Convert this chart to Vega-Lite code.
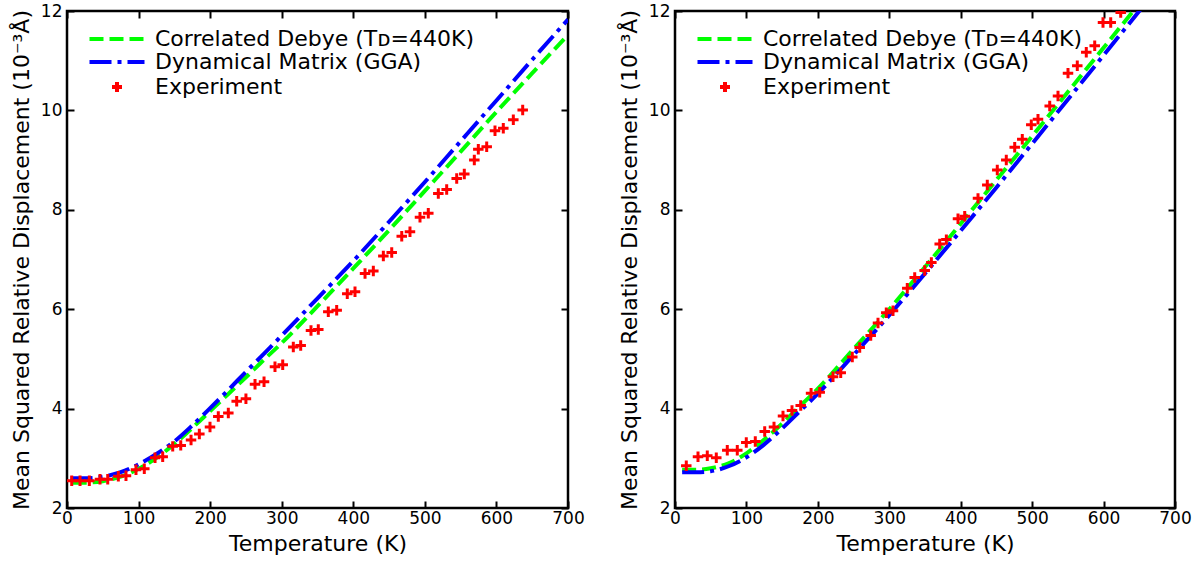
{
  "$schema": "https://vega.github.io/schema/vega-lite/v6.json",
  "padding": {"left": 9, "top": 0, "right": 5, "bottom": 5},
  "background": "white",
  "spacing": 31,
  "config": {
    "font": "DejaVu Sans",
    "view": {"stroke": "black", "strokeWidth": 2.5},
    "axis": {
      "labelFont": "DejaVu Sans", "labelFontSize": 17, "labelColor": "black", "labelFlush": false,
      "titleFont": "DejaVu Sans", "titleFontSize": 22, "titleFontWeight": "normal", "titleColor": "black",
      "tickColor": "black", "tickWidth": 2, "tickSize": 7, "offset": -7, "domain": false, "grid": false,
      "titlePadding": 7
    },
    "axisX": {"labelPadding": 2},
    "axisY": {"labelPadding": 5},
    "legend": {
      "labelFont": "DejaVu Sans", "labelFontSize": 22, "labelColor": "black", "labelLimit": 0,
      "orient": "top-left", "offset": 17, "symbolSize": 100, "symbolStrokeWidth": 4,
      "symbolOffset": 22, "labelOffset": 27, "rowPadding": 1
    }
  },
  "datasets": {
    "left_lines": [
      {"series": "Correlated Debye (Tᴅ=440K)", "T": 8, "v": 2.51},
      {"series": "Correlated Debye (Tᴅ=440K)", "T": 25, "v": 2.51},
      {"series": "Correlated Debye (Tᴅ=440K)", "T": 50, "v": 2.54},
      {"series": "Correlated Debye (Tᴅ=440K)", "T": 75, "v": 2.63},
      {"series": "Correlated Debye (Tᴅ=440K)", "T": 100, "v": 2.79},
      {"series": "Correlated Debye (Tᴅ=440K)", "T": 125, "v": 3.01},
      {"series": "Correlated Debye (Tᴅ=440K)", "T": 150, "v": 3.29},
      {"series": "Correlated Debye (Tᴅ=440K)", "T": 175, "v": 3.61},
      {"series": "Correlated Debye (Tᴅ=440K)", "T": 200, "v": 3.95},
      {"series": "Correlated Debye (Tᴅ=440K)", "T": 225, "v": 4.29},
      {"series": "Correlated Debye (Tᴅ=440K)", "T": 250, "v": 4.63},
      {"series": "Correlated Debye (Tᴅ=440K)", "T": 275, "v": 4.98},
      {"series": "Correlated Debye (Tᴅ=440K)", "T": 300, "v": 5.32},
      {"series": "Correlated Debye (Tᴅ=440K)", "T": 350, "v": 6.06},
      {"series": "Correlated Debye (Tᴅ=440K)", "T": 400, "v": 6.82},
      {"series": "Correlated Debye (Tᴅ=440K)", "T": 450, "v": 7.59},
      {"series": "Correlated Debye (Tᴅ=440K)", "T": 500, "v": 8.38},
      {"series": "Correlated Debye (Tᴅ=440K)", "T": 550, "v": 9.17},
      {"series": "Correlated Debye (Tᴅ=440K)", "T": 600, "v": 9.97},
      {"series": "Correlated Debye (Tᴅ=440K)", "T": 650, "v": 10.75},
      {"series": "Correlated Debye (Tᴅ=440K)", "T": 700, "v": 11.52},
      {"series": "Dynamical Matrix (GGA)", "T": 5, "v": 2.60},
      {"series": "Dynamical Matrix (GGA)", "T": 25, "v": 2.60},
      {"series": "Dynamical Matrix (GGA)", "T": 50, "v": 2.63},
      {"series": "Dynamical Matrix (GGA)", "T": 75, "v": 2.72},
      {"series": "Dynamical Matrix (GGA)", "T": 100, "v": 2.88},
      {"series": "Dynamical Matrix (GGA)", "T": 125, "v": 3.09},
      {"series": "Dynamical Matrix (GGA)", "T": 150, "v": 3.34},
      {"series": "Dynamical Matrix (GGA)", "T": 175, "v": 3.66},
      {"series": "Dynamical Matrix (GGA)", "T": 200, "v": 4.01},
      {"series": "Dynamical Matrix (GGA)", "T": 225, "v": 4.37},
      {"series": "Dynamical Matrix (GGA)", "T": 250, "v": 4.74},
      {"series": "Dynamical Matrix (GGA)", "T": 275, "v": 5.10},
      {"series": "Dynamical Matrix (GGA)", "T": 300, "v": 5.47},
      {"series": "Dynamical Matrix (GGA)", "T": 350, "v": 6.22},
      {"series": "Dynamical Matrix (GGA)", "T": 400, "v": 6.97},
      {"series": "Dynamical Matrix (GGA)", "T": 450, "v": 7.76},
      {"series": "Dynamical Matrix (GGA)", "T": 500, "v": 8.56},
      {"series": "Dynamical Matrix (GGA)", "T": 550, "v": 9.38},
      {"series": "Dynamical Matrix (GGA)", "T": 600, "v": 10.20},
      {"series": "Dynamical Matrix (GGA)", "T": 650, "v": 11.02},
      {"series": "Dynamical Matrix (GGA)", "T": 700, "v": 11.83}
    ],
    "left_exp": [
      {"series": "Experiment", "T": 6.6, "v": 2.55}, {"series": "Experiment", "T": 18.2, "v": 2.55},
      {"series": "Experiment", "T": 31.2, "v": 2.55}, {"series": "Experiment", "T": 46.1, "v": 2.58},
      {"series": "Experiment", "T": 56.9, "v": 2.58}, {"series": "Experiment", "T": 71.7, "v": 2.64},
      {"series": "Experiment", "T": 82.4, "v": 2.65}, {"series": "Experiment", "T": 96.4, "v": 2.77},
      {"series": "Experiment", "T": 108, "v": 2.79}, {"series": "Experiment", "T": 123, "v": 3.01},
      {"series": "Experiment", "T": 133.7, "v": 3.03}, {"series": "Experiment", "T": 147.7, "v": 3.24},
      {"series": "Experiment", "T": 158.9, "v": 3.26}, {"series": "Experiment", "T": 173.3, "v": 3.37},
      {"series": "Experiment", "T": 184.9, "v": 3.49}, {"series": "Experiment", "T": 199.8, "v": 3.63},
      {"series": "Experiment", "T": 211.4, "v": 3.84}, {"series": "Experiment", "T": 225.4, "v": 3.91},
      {"series": "Experiment", "T": 237.1, "v": 4.15}, {"series": "Experiment", "T": 250, "v": 4.20},
      {"series": "Experiment", "T": 262.7, "v": 4.49}, {"series": "Experiment", "T": 275.3, "v": 4.54},
      {"series": "Experiment", "T": 290.6, "v": 4.84}, {"series": "Experiment", "T": 301.4, "v": 4.88},
      {"series": "Experiment", "T": 316.2, "v": 5.24}, {"series": "Experiment", "T": 326.5, "v": 5.27},
      {"series": "Experiment", "T": 340.9, "v": 5.57}, {"series": "Experiment", "T": 351.1, "v": 5.59},
      {"series": "Experiment", "T": 365.1, "v": 5.95}, {"series": "Experiment", "T": 376.8, "v": 5.98},
      {"series": "Experiment", "T": 391.6, "v": 6.31}, {"series": "Experiment", "T": 402.4, "v": 6.35},
      {"series": "Experiment", "T": 416.4, "v": 6.72}, {"series": "Experiment", "T": 428, "v": 6.77},
      {"series": "Experiment", "T": 442, "v": 7.07}, {"series": "Experiment", "T": 453.7, "v": 7.14},
      {"series": "Experiment", "T": 467.7, "v": 7.47}, {"series": "Experiment", "T": 479.2, "v": 7.56},
      {"series": "Experiment", "T": 493.2, "v": 7.85}, {"series": "Experiment", "T": 504.8, "v": 7.93},
      {"series": "Experiment", "T": 518.8, "v": 8.33}, {"series": "Experiment", "T": 530.5, "v": 8.41},
      {"series": "Experiment", "T": 544.5, "v": 8.63}, {"series": "Experiment", "T": 555.1, "v": 8.72},
      {"series": "Experiment", "T": 569.1, "v": 9.00}, {"series": "Experiment", "T": 574.7, "v": 9.22},
      {"series": "Experiment", "T": 586.4, "v": 9.27}, {"series": "Experiment", "T": 598, "v": 9.59},
      {"series": "Experiment", "T": 609.6, "v": 9.64}, {"series": "Experiment", "T": 623.6, "v": 9.81},
      {"series": "Experiment", "T": 636.7, "v": 10.01}
    ],
    "right_lines": [
      {"series": "Correlated Debye (Tᴅ=440K)", "T": 10, "v": 2.77},
      {"series": "Correlated Debye (Tᴅ=440K)", "T": 30, "v": 2.77},
      {"series": "Correlated Debye (Tᴅ=440K)", "T": 50, "v": 2.80},
      {"series": "Correlated Debye (Tᴅ=440K)", "T": 75, "v": 2.90},
      {"series": "Correlated Debye (Tᴅ=440K)", "T": 100, "v": 3.10},
      {"series": "Correlated Debye (Tᴅ=440K)", "T": 125, "v": 3.38},
      {"series": "Correlated Debye (Tᴅ=440K)", "T": 150, "v": 3.70},
      {"series": "Correlated Debye (Tᴅ=440K)", "T": 175, "v": 4.05},
      {"series": "Correlated Debye (Tᴅ=440K)", "T": 200, "v": 4.40},
      {"series": "Correlated Debye (Tᴅ=440K)", "T": 250, "v": 5.20},
      {"series": "Correlated Debye (Tᴅ=440K)", "T": 300, "v": 6.00},
      {"series": "Correlated Debye (Tᴅ=440K)", "T": 350, "v": 6.85},
      {"series": "Correlated Debye (Tᴅ=440K)", "T": 400, "v": 7.72},
      {"series": "Correlated Debye (Tᴅ=440K)", "T": 450, "v": 8.60},
      {"series": "Correlated Debye (Tᴅ=440K)", "T": 500, "v": 9.48},
      {"series": "Correlated Debye (Tᴅ=440K)", "T": 550, "v": 10.37},
      {"series": "Correlated Debye (Tᴅ=440K)", "T": 600, "v": 11.26},
      {"series": "Correlated Debye (Tᴅ=440K)", "T": 650, "v": 12.15},
      {"series": "Correlated Debye (Tᴅ=440K)", "T": 700, "v": 13.05},
      {"series": "Dynamical Matrix (GGA)", "T": 10, "v": 2.72},
      {"series": "Dynamical Matrix (GGA)", "T": 30, "v": 2.72},
      {"series": "Dynamical Matrix (GGA)", "T": 50, "v": 2.74},
      {"series": "Dynamical Matrix (GGA)", "T": 75, "v": 2.84},
      {"series": "Dynamical Matrix (GGA)", "T": 100, "v": 3.02},
      {"series": "Dynamical Matrix (GGA)", "T": 125, "v": 3.28},
      {"series": "Dynamical Matrix (GGA)", "T": 150, "v": 3.60},
      {"series": "Dynamical Matrix (GGA)", "T": 175, "v": 3.95},
      {"series": "Dynamical Matrix (GGA)", "T": 200, "v": 4.30},
      {"series": "Dynamical Matrix (GGA)", "T": 250, "v": 5.08},
      {"series": "Dynamical Matrix (GGA)", "T": 300, "v": 5.88},
      {"series": "Dynamical Matrix (GGA)", "T": 350, "v": 6.72},
      {"series": "Dynamical Matrix (GGA)", "T": 400, "v": 7.58},
      {"series": "Dynamical Matrix (GGA)", "T": 450, "v": 8.45},
      {"series": "Dynamical Matrix (GGA)", "T": 500, "v": 9.33},
      {"series": "Dynamical Matrix (GGA)", "T": 550, "v": 10.22},
      {"series": "Dynamical Matrix (GGA)", "T": 600, "v": 11.11},
      {"series": "Dynamical Matrix (GGA)", "T": 650, "v": 12.00},
      {"series": "Dynamical Matrix (GGA)", "T": 700, "v": 12.90}
    ],
    "right_exp": [
      {"series": "Experiment", "T": 15.8, "v": 2.85}, {"series": "Experiment", "T": 32.2, "v": 3.03},
      {"series": "Experiment", "T": 45.2, "v": 3.05}, {"series": "Experiment", "T": 57.8, "v": 3.01},
      {"series": "Experiment", "T": 73.2, "v": 3.16}, {"series": "Experiment", "T": 87.2, "v": 3.16},
      {"series": "Experiment", "T": 99.8, "v": 3.32}, {"series": "Experiment", "T": 112.4, "v": 3.34},
      {"series": "Experiment", "T": 125.6, "v": 3.54}, {"series": "Experiment", "T": 138.6, "v": 3.63},
      {"series": "Experiment", "T": 151.2, "v": 3.85}, {"series": "Experiment", "T": 163.8, "v": 3.96},
      {"series": "Experiment", "T": 176, "v": 4.06}, {"series": "Experiment", "T": 190.5, "v": 4.31},
      {"series": "Experiment", "T": 202.6, "v": 4.33}, {"series": "Experiment", "T": 221.2, "v": 4.64},
      {"series": "Experiment", "T": 232, "v": 4.72}, {"series": "Experiment", "T": 248.2, "v": 5.04},
      {"series": "Experiment", "T": 258.6, "v": 5.23}, {"series": "Experiment", "T": 274, "v": 5.47},
      {"series": "Experiment", "T": 284.2, "v": 5.72}, {"series": "Experiment", "T": 295.8, "v": 5.93},
      {"series": "Experiment", "T": 305.2, "v": 5.97}, {"series": "Experiment", "T": 325.2, "v": 6.42},
      {"series": "Experiment", "T": 335.6, "v": 6.64}, {"series": "Experiment", "T": 349.6, "v": 6.78},
      {"series": "Experiment", "T": 358.9, "v": 6.94}, {"series": "Experiment", "T": 370.6, "v": 7.31},
      {"series": "Experiment", "T": 379.9, "v": 7.40}, {"series": "Experiment", "T": 396.2, "v": 7.82},
      {"series": "Experiment", "T": 405.6, "v": 7.87}, {"series": "Experiment", "T": 424.2, "v": 8.23},
      {"series": "Experiment", "T": 437.2, "v": 8.50}, {"series": "Experiment", "T": 451.2, "v": 8.80},
      {"series": "Experiment", "T": 463.8, "v": 9.00}, {"series": "Experiment", "T": 475.6, "v": 9.26},
      {"series": "Experiment", "T": 486.2, "v": 9.42}, {"series": "Experiment", "T": 498.8, "v": 9.71},
      {"series": "Experiment", "T": 508.2, "v": 9.82}, {"series": "Experiment", "T": 524.6, "v": 10.09},
      {"series": "Experiment", "T": 536.2, "v": 10.29}, {"series": "Experiment", "T": 550.2, "v": 10.75},
      {"series": "Experiment", "T": 563.2, "v": 10.90}, {"series": "Experiment", "T": 575.8, "v": 11.17},
      {"series": "Experiment", "T": 587.6, "v": 11.30}, {"series": "Experiment", "T": 599.2, "v": 11.77},
      {"series": "Experiment", "T": 610, "v": 11.77}, {"series": "Experiment", "T": 624, "v": 11.97}
    ]
  },
  "hconcat": [
    {
      "width": 501, "height": 497,
      "layer": [
        {
          "data": {"name": "left_lines"},
          "mark": {"type": "line", "strokeWidth": 4, "clip": true, "interpolate": "monotone"},
          "encoding": {
            "x": {"field": "T", "type": "quantitative", "scale": {"domain": [0, 700], "nice": false},
                  "axis": {"orient": "bottom", "title": "Temperature (K)", "values": [0, 100, 200, 300, 400, 500, 600, 700]}},
            "y": {"field": "v", "type": "quantitative", "scale": {"domain": [2, 12], "nice": false},
                  "axis": {"orient": "left", "title": "Mean Squared Relative Displacement (10⁻³Å)", "values": [2, 4, 6, 8, 10, 12]}},
            "color": {"field": "series", "type": "nominal",
                      "scale": {"domain": ["Correlated Debye (Tᴅ=440K)", "Dynamical Matrix (GGA)", "Experiment"], "range": ["#00ff00", "#0000ff", "#ff0000"]},
                      "legend": {"title": null}},
            "strokeDash": {"field": "series", "type": "nominal",
                           "scale": {"domain": ["Correlated Debye (Tᴅ=440K)", "Dynamical Matrix (GGA)", "Experiment"], "range": [[14, 6], [22, 6, 4, 6], [1, 0]]},
                           "legend": {"title": null}}
          }
        },
        {
          "data": {"name": "left_exp"},
          "mark": {"type": "point", "filled": false, "strokeWidth": 3, "size": 110, "opacity": 1, "clip": true},
          "encoding": {
            "x": {"field": "T", "type": "quantitative", "axis": {"orient": "top", "labels": false, "title": null, "values": [0, 100, 200, 300, 400, 500, 600, 700]}},
            "y": {"field": "v", "type": "quantitative", "axis": {"orient": "right", "labels": false, "title": null, "values": [2, 4, 6, 8, 10, 12]}},
            "color": {"field": "series", "type": "nominal", "legend": {"title": null}},
            "shape": {"field": "series", "type": "nominal",
                      "scale": {"domain": ["Correlated Debye (Tᴅ=440K)", "Dynamical Matrix (GGA)", "Experiment"], "range": ["M-5.5,0H5.5", "M-5.5,0H5.5", "M-1,0H1M0,-1V1"]},
                      "legend": {"title": null}}
          }
        }
      ]
    },
    {
      "width": 500, "height": 497,
      "layer": [
        {
          "data": {"name": "right_lines"},
          "mark": {"type": "line", "strokeWidth": 4, "clip": true, "interpolate": "monotone"},
          "encoding": {
            "x": {"field": "T", "type": "quantitative", "scale": {"domain": [0, 700], "nice": false},
                  "axis": {"orient": "bottom", "title": "Temperature (K)", "values": [0, 100, 200, 300, 400, 500, 600, 700]}},
            "y": {"field": "v", "type": "quantitative", "scale": {"domain": [2, 12], "nice": false},
                  "axis": {"orient": "left", "title": "Mean Squared Relative Displacement (10⁻³Å)", "values": [2, 4, 6, 8, 10, 12]}},
            "color": {"field": "series", "type": "nominal",
                      "scale": {"domain": ["Correlated Debye (Tᴅ=440K)", "Dynamical Matrix (GGA)", "Experiment"], "range": ["#00ff00", "#0000ff", "#ff0000"]},
                      "legend": {"title": null}},
            "strokeDash": {"field": "series", "type": "nominal",
                           "scale": {"domain": ["Correlated Debye (Tᴅ=440K)", "Dynamical Matrix (GGA)", "Experiment"], "range": [[14, 6], [22, 6, 4, 6], [1, 0]]},
                           "legend": {"title": null}}
          }
        },
        {
          "data": {"name": "right_exp"},
          "mark": {"type": "point", "filled": false, "strokeWidth": 3, "size": 110, "opacity": 1, "clip": true},
          "encoding": {
            "x": {"field": "T", "type": "quantitative", "axis": {"orient": "top", "labels": false, "title": null, "values": [0, 100, 200, 300, 400, 500, 600, 700]}},
            "y": {"field": "v", "type": "quantitative", "axis": {"orient": "right", "labels": false, "title": null, "values": [2, 4, 6, 8, 10, 12]}},
            "color": {"field": "series", "type": "nominal", "legend": {"title": null}},
            "shape": {"field": "series", "type": "nominal",
                      "scale": {"domain": ["Correlated Debye (Tᴅ=440K)", "Dynamical Matrix (GGA)", "Experiment"], "range": ["M-5.5,0H5.5", "M-5.5,0H5.5", "M-1,0H1M0,-1V1"]},
                      "legend": {"title": null}}
          }
        }
      ]
    }
  ],
  "resolve": {"scale": {"color": "independent", "strokeDash": "independent", "shape": "independent"}, "legend": {"color": "independent", "strokeDash": "independent", "shape": "independent"}}
}
